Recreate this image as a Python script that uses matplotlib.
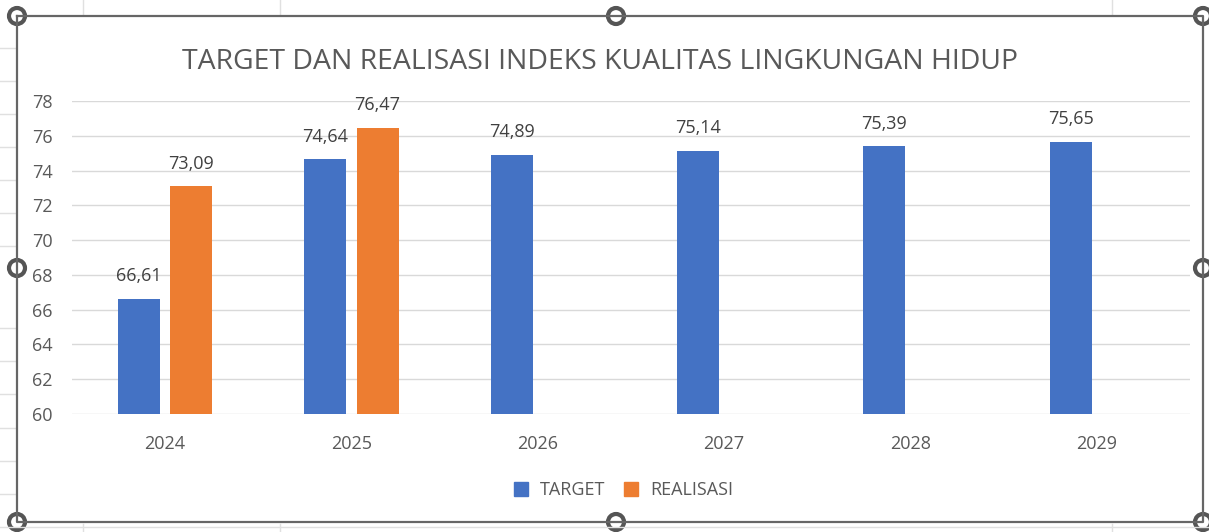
import matplotlib.pyplot as plt
import numpy as np
from matplotlib.lines import Line2D

years = ['2024', '2025', '2026', '2027', '2028', '2029']
target = [66.61, 74.64, 74.89, 75.14, 75.39, 75.65]
realisasi = [73.09, 76.47, None, None, None, None]

blue = '#4472C4'
orange = '#ED7D31'
txt = '#595959'
plt.rcParams['font.family'] = ['Open Sans', 'DejaVu Sans']

fig = plt.figure(figsize=(12.09, 5.32), dpi=100)
ax = fig.add_axes([72/1209, 1-414/532, (1190-72)/1209, (414-101)/532])

x = np.arange(len(years))
w = 0.225
off = 0.14
ax.bar(x - off, target, w, color=blue, label='TARGET')
rx = [i + off for i, v in enumerate(realisasi) if v is not None]
rv = [v for v in realisasi if v is not None]
ax.bar(rx, rv, w, color=orange, label='REALISASI')

for i, v in enumerate(target):
    ax.text(i - off, v + 1.3, f'{v:.2f}'.replace('.', ','), ha='center', va='center',
            fontsize=13, color='#404040')
for xi, v in zip(rx, rv):
    ax.text(xi, v + 1.3, f'{v:.2f}'.replace('.', ','), ha='center', va='center',
            fontsize=13, color='#404040')

ax.set_ylim(60, 78)
ax.set_xlim(-0.5, len(years) - 0.5)
ax.set_yticks(range(60, 79, 2))
ax.set_xticks(x)
ax.set_xticklabels(years)
ax.tick_params(axis='both', length=0, labelsize=13, labelcolor=txt)
ax.tick_params(axis='x', pad=15)
ax.tick_params(axis='y', pad=14)
ax.grid(axis='y', color='#D9D9D9', linewidth=1)
ax.set_axisbelow(True)
for s in ax.spines.values():
    s.set_visible(False)

fig.text(600/1209, 1-62/532, 'TARGET DAN REALISASI INDEKS KUALITAS LINGKUNGAN HIDUP',
         ha='center', va='center', fontsize=20.4, color=txt)

handles = [Line2D([], [], marker='s', ls='', color=blue, markersize=10),
           Line2D([], [], marker='s', ls='', color=orange, markersize=10)]
fig.legend(handles, ['TARGET', 'REALISASI'], loc='center', bbox_to_anchor=(618/1209, 1-490/532),
           ncol=2, frameon=False, fontsize=13, labelcolor=txt, handletextpad=0.05,
           columnspacing=0.4)

# excel sheet cell lines behind the chart frame
for cx in [83, 280, 1112]:
    fig.add_artist(Line2D([cx/1209, cx/1209], [1, 1-14/532], color='#E0E0E0', lw=1))
    fig.add_artist(Line2D([cx/1209, cx/1209], [0, 1-524/532], color='#E0E0E0', lw=1))
for cy in [48, 81, 114, 147, 180, 213, 246, 328, 361, 394, 428, 461, 494]:
    fig.add_artist(Line2D([0, 15/1209], [1-cy/532, 1-cy/532], color='#E0E0E0', lw=1))
fig.add_artist(Line2D([0, 1], [1-527/532, 1-527/532], color='#E0E0E0', lw=1))

# chart selection frame
L, R, T, B = 17/1209, 1203/1209, 1-16/532, 1-522/532
fig.add_artist(Line2D([L, R, R, L, L], [T, T, B, B, T], color='#666666', lw=1.6))
for hx, hy in [(17, 16), (616, 16), (1203, 16), (17, 268), (1203, 268),
               (17, 522), (616, 522), (1203, 522)]:
    fig.add_artist(plt.Circle((hx, 532-hy), 8, transform=None, facecolor='white',
                              edgecolor='#555555', lw=3))

fig.savefig('out.png', dpi=100)
